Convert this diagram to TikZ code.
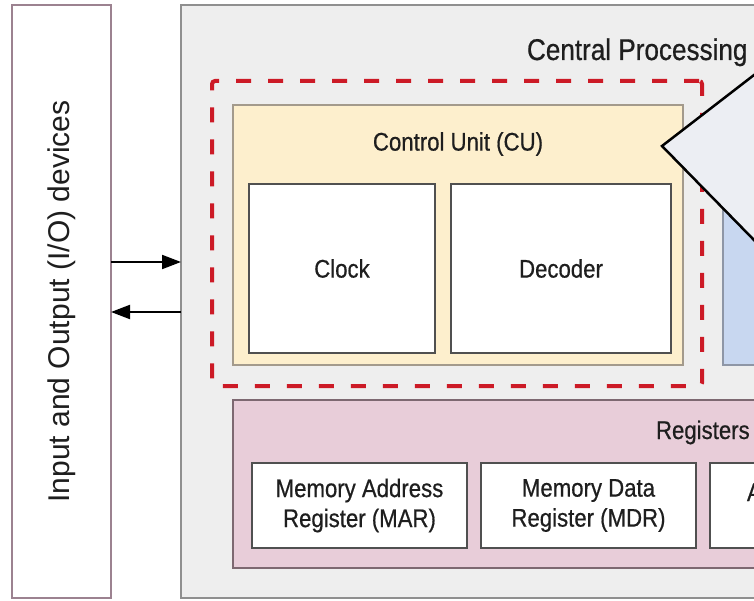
\documentclass[tikz,border=0pt]{standalone}
\usepackage{fontspec}
\setmainfont{Liberation Sans}
\newfontfamily\condf[FakeStretch=0.87,FakeBold=0.6]{Liberation Sans}
\usetikzlibrary{arrows.meta}
\definecolor{iobord}{HTML}{9C8290}
\definecolor{cpufill}{HTML}{EEEEEE}
\definecolor{cpubord}{HTML}{8F8F8F}
\definecolor{dashred}{HTML}{CC1A26}
\definecolor{cufill}{HTML}{FDEFCD}
\definecolor{cubord}{HTML}{A39A8C}
\definecolor{inbord}{HTML}{505050}
\definecolor{bluefill}{HTML}{C8D7F0}
\definecolor{bluebord}{HTML}{8E96A6}
\definecolor{callfill}{HTML}{ECEEF3}
\definecolor{regfill}{HTML}{E8CDD9}
\definecolor{regbord}{HTML}{7D6871}
\definecolor{textc}{HTML}{1E1E1E}
\tikzset{
  rbox/.style={rectangle, inner sep=0pt, outer sep=0pt, anchor=north west},
  iobox/.style={rbox, draw=iobord, fill=white, line width=2pt},
  cpubox/.style={rbox, draw=cpubord, fill=cpufill, line width=2pt},
  cuframestyle/.style={rbox, draw=dashred, line width=4pt, dash pattern=on 15pt off 17pt, rounded corners=3pt},
  cubox/.style={rbox, draw=cubord, fill=cufill, line width=2pt},
  inbox/.style={rbox, draw=inbord, fill=white, line width=2pt, text=textc, font=\condf\fontsize{25.5}{30}\selectfont, align=center},
  bluebox/.style={rbox, draw=bluebord, fill=bluefill, line width=2pt},
  regbox/.style={rbox, draw=regbord, fill=regfill, line width=2pt},
  callout/.style={draw=black, fill=callfill, line width=2.5pt, line join=miter},
  lbl/.style={inner sep=0pt, outer sep=0pt, text=textc, font=\condf\fontsize{25.5}{30}\selectfont},
  arr/.style={draw=black, line width=2pt, -{Triangle[length=19pt,width=14pt]}}
}
\begin{document}
\begin{tikzpicture}[x=1pt,y=-1pt]
\useasboundingbox (0,0) rectangle (754,601);
\clip (0,0) rectangle (754,601);
\fill[white] (0,0) rectangle (754,601);

% I/O devices
\node[iobox, minimum width=99pt, minimum height=593pt] (io) at (12,5) {};
\node[rotate=90, inner sep=0pt, text=textc, font=\fontsize{30}{36}\selectfont] (iolbl) at (io.center) {Input and Output (I/O) devices};

% CPU
\node[cpubox, minimum width=700pt, minimum height=593pt] (cpu) at (181,5) {};
\node[lbl, anchor=base west, font=\condf\fontsize{30}{34}\selectfont] (cpulbl) at (527,60) {Central Processing Unit (CPU)};

% arrows
\draw[arr] (io.east |- 0,262) -- (cpu.west |- 0,262);
\draw[arr] (cpu.west |- 0,312) -- (io.east |- 0,312);

% control unit
\node[cuframestyle, minimum width=490pt, minimum height=305pt] (cuframe) at (212,81) {};
\node[cubox, minimum width=450pt, minimum height=260pt] (cu) at (233,105) {};
\node[lbl] (culbl) at (458,144) {Control Unit (CU)};
\node[inbox, minimum width=186pt, minimum height=169pt] (clock) at (249,184) {Clock};
\node[inbox, minimum width=220pt, minimum height=169pt] (decoder) at (451,184) {Decoder};

% next unit (mostly outside the view)
\node[bluebox, minimum width=100pt, minimum height=260pt] (alu) at (723,105) {};
\draw[callout] (775,58.8) -- (662,146) -- (775,261.5) -- cycle;

% registers
\node[regbox, minimum width=700pt, minimum height=168pt] (regs) at (233,400) {};
\node[lbl, anchor=base west] (regslbl) at (656,439) {Registers};
\node[inbox, minimum width=215pt, minimum height=85pt] (mar) at (252,463) {Memory Address\\Register (MAR)};
\node[inbox, minimum width=215pt, minimum height=85pt] (mdr) at (481,463) {Memory Data\\Register (MDR)};
\node[inbox, minimum width=215pt, minimum height=85pt] (acc) at (710,463) {};
\node[lbl, anchor=base west] (acclbl) at (747,501) {Accumulator};
\end{tikzpicture}
\end{document}
